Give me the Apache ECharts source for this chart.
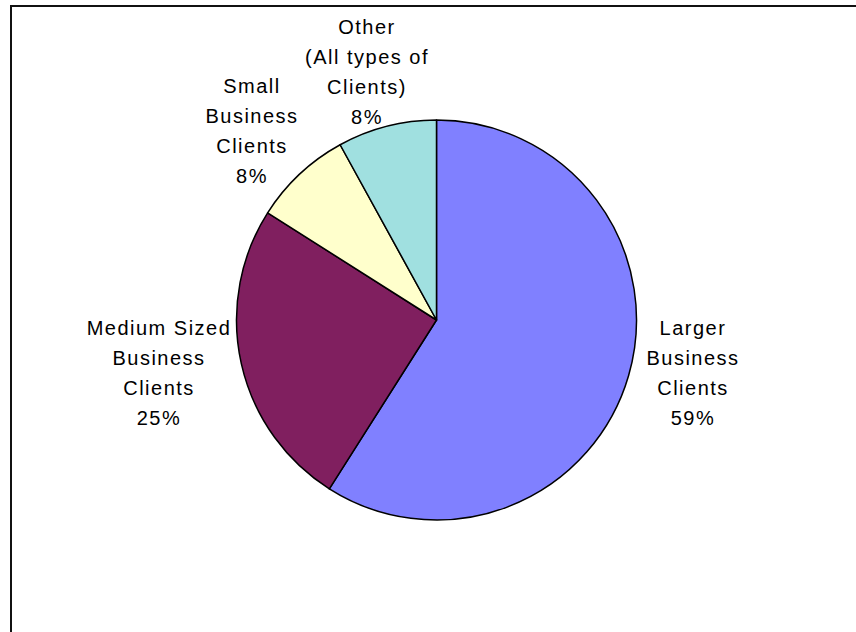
<!DOCTYPE html>
<html>
<head>
<meta charset="utf-8">
<title>Clients by business size</title>
<script src="https://cdn.jsdelivr.net/npm/echarts@6/dist/echarts.min.js"></script>
<style>
  html, body { margin: 0; padding: 0; background: #fff; }
  #chart { width: 856px; height: 632px; }
  /* wider tracking for the slice captions */
  #chart text { letter-spacing: 1.5px; }
</style>
</head>
<body>
<div id="chart"></div>
<script>
// Client groups and their share of the total (percent)
const categories = [
  'Larger\nBusiness\nClients',
  'Medium Sized\nBusiness\nClients',
  'Small\nBusiness\nClients',
  'Other\n(All types of\nClients)'
];
const shares = [59, 25, 8, 8];
const sliceColors = ['#8080FF', '#801F5F', '#FFFFCC', '#A0E0E0'];

// Where each caption block is centred on the canvas
const captionCentres = [
  [693, 373],
  [159, 373],
  [252, 131],
  [367, 72]
];

const chart = echarts.init(document.getElementById('chart'), null, { renderer: 'svg' });

chart.setOption({
  animation: false,
  backgroundColor: '#fff',
  graphic: [{
    type: 'rect',
    shape: { x: 11, y: 6, width: 900, height: 700 },
    style: { fill: 'none', stroke: '#111', lineWidth: 2 },
    silent: true
  }],
  series: [{
    type: 'pie',
    center: [436.5, 320],
    radius: 200,
    startAngle: 90,
    clockwise: true,
    avoidLabelOverlap: false,
    data: categories.map((name, i) => ({
      name: name,
      value: shares[i],
      itemStyle: { color: sliceColors[i] }
    })),
    itemStyle: { borderColor: '#000', borderWidth: 1.5 },
    label: {
      show: true,
      position: 'outside',
      formatter: p => p.name + '\n' + p.value + '%',
      fontFamily: '"Liberation Sans", Arial, sans-serif',
      fontSize: 20,
      lineHeight: 30,
      color: '#000'
    },
    labelLine: { show: false },
    labelLayout: p => ({
      x: captionCentres[p.dataIndex][0],
      y: captionCentres[p.dataIndex][1],
      align: 'center',
      verticalAlign: 'middle'
    }),
    emphasis: { disabled: true }
  }]
});
</script>
</body>
</html>
